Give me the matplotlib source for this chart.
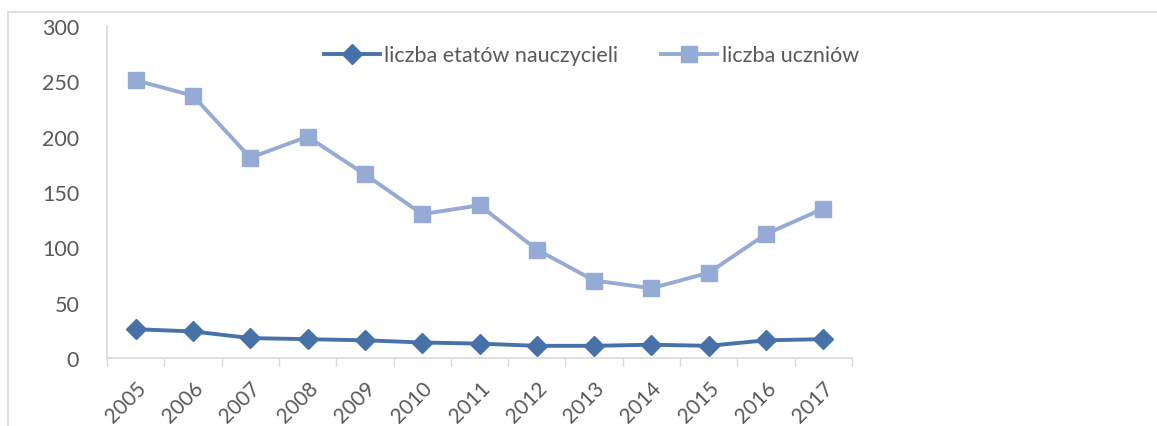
import numpy as np
import matplotlib.pyplot as plt
from matplotlib.lines import Line2D

# data
years = [str(y) for y in range(2005, 2018)]
etaty = [26, 24, 18, 17, 16, 14, 13, 11, 11, 12, 11, 16, 17]
uczniowie = [251, 237, 181, 200, 166, 130, 138, 98, 70, 63, 77, 112, 135]
yticks = [0, 50, 100, 150, 200, 250, 300]

dark = '#4672A8'
light = '#95AAD4'
txt = '#595959'
grid = '#D9D9D9'

plt.rcParams['font.family'] = ['Lato', 'DejaVu Sans']

fig = plt.figure(figsize=(11.57, 4.27), dpi=100)
ax = fig.add_axes([107 / 1157, 1 - 359 / 427, (852 - 107) / 1157, (359 - 27) / 427])

x = np.arange(len(years))
ax.plot(x, etaty, color=dark, lw=2.8, marker='D', ms=10, label='liczba etatów nauczycieli')
ax.plot(x, uczniowie, color=light, lw=2.8, marker='s', ms=12, label='liczba uczniów')

ax.set_xlim(-0.5, len(years) - 0.5)
ax.set_ylim(0, 300)
ax.set_yticks(yticks)
ax.set_yticklabels([str(v) for v in yticks], fontsize=15.5, color=txt)
ax.tick_params(axis='y', length=0, pad=20)

ax.set_xticks(x)
ax.set_xticklabels(years, rotation=45, ha='right', va='top', rotation_mode='anchor',
                   fontsize=15, color=txt)
ax.tick_params(axis='x', which='major', length=0, pad=14)
ax.set_xticks(np.arange(-0.5, len(years)), minor=True)
ax.tick_params(axis='x', which='minor', length=6, color=grid, width=1)

for s in ['top', 'right']:
    ax.spines[s].set_visible(False)
for s in ['left', 'bottom']:
    ax.spines[s].set_color(grid)
    ax.spines[s].set_linewidth(1.2)

ax.legend(loc='upper center', bbox_to_anchor=(0.65, 1.0), ncol=2, frameon=False,
          fontsize=15.5, labelcolor=txt, handlelength=2.6, handletextpad=0.2,
          columnspacing=2.0)

# outer chart frame (top and left edges)
fig.add_artist(Line2D([8 / 1157, 1], [1 - 13 / 427, 1 - 13 / 427], color=grid, lw=1.2))
fig.add_artist(Line2D([8 / 1157, 8 / 1157], [0, 1 - 13 / 427], color=grid, lw=1.2))

fig.savefig('out.png', dpi=100, facecolor='white')
